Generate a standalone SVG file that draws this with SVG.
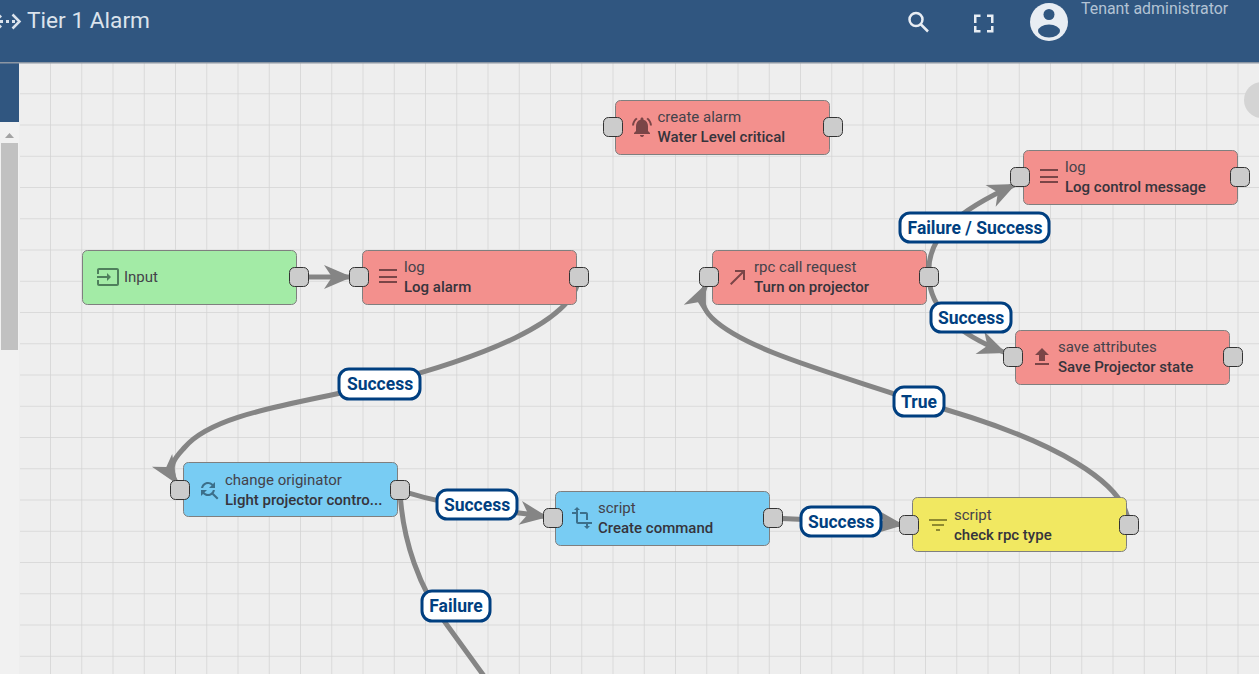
<svg xmlns="http://www.w3.org/2000/svg" xmlns:xlink="http://www.w3.org/1999/xlink" width="1259" height="674" viewBox="0 0 1259 674">
<style>
text{font-family:Roboto,"Liberation Sans",sans-serif}
.node{stroke:#7f7f7f;stroke-width:1}
.red{fill:#f3908d}.green{fill:#a3eba6}.blue{fill:#78ccf3}.yellow{fill:#f1e861}
.port{fill:#cccccc;stroke:#333;stroke-width:1}
.t{font-size:15px;fill:#44424a}
.n{font-size:15px;font-weight:500;fill:#36343c}
.edge{fill:none;stroke:#858585;stroke-width:5}
.lb{fill:#fff;stroke:#003f80;stroke-width:3}
.lt{font-size:17.500px;font-weight:700;fill:#003f80;text-anchor:middle}
.ir{fill:#7a4547}.ib{fill:#3c6f8a}.ig{fill:#4f7f5c}.iy{fill:#8f8a30}
</style>
<defs>
<pattern id="grid" width="31.25" height="31.25" patternUnits="userSpaceOnUse" x="19.75" y="0.5">
<path d="M31.25 0V31.25H0" fill="none" stroke="#d3d3d3" stroke-width="1.500"/>
</pattern>
<marker id="arrow" markerUnits="userSpaceOnUse" markerWidth="30" markerHeight="26" refX="28" refY="13" orient="auto" overflow="visible">
<path d="M0 1L28 13L0 25L8 13Z" fill="#858585"/>
</marker>
<path id="i-menu" d="M3 18h18v-2H3zm0-5h18v-2H3zm0-7h18V4H3z"/>
<path id="i-bell" d="M7.58 4.08L6.15 2.65C3.75 4.48 2.17 7.3 2.03 10.5h2c.15-2.65 1.51-4.97 3.55-6.42zm12.39 6.42h2c-.15-3.2-1.73-6.02-4.12-7.85l-1.42 1.43c2.02 1.45 3.39 3.77 3.54 6.42zM18 11c0-3.07-1.64-5.64-4.5-6.32V4c0-.83-.67-1.5-1.5-1.5s-1.5.67-1.5 1.5v.68C7.63 5.36 6 7.92 6 11v5l-2 2v1h16v-1l-2-2v-5zm-6 11c.14 0 .27-.01.4-.04.65-.14 1.18-.58 1.44-1.18.1-.24.15-.5.15-.78h-4c.01 1.1.9 2 2.01 2z"/>
<path id="i-call" d="M9 5v2h6.59L4 18.59 5.41 20 17 8.41V15h2V5z"/>
<path id="i-pub" d="M5 20h14v-2H5v2zm0-10h4v6h6v-6h4l-7-7-7 7z"/>
<path id="i-input" d="M21 3.01H3c-1.1 0-2 .9-2 2V9h2V4.99h18v14.03H3V15H1v4.01c0 1.1.9 1.98 2 1.98h18c1.1 0 2-.88 2-1.98v-14c0-1.11-.9-2-2-2zM11 16l4-4-4-4v3H1v2h10v3z"/>
<path id="i-find" d="M11 6c1.38 0 2.63.56 3.54 1.46L12 10h6V4l-2.05 2.05C14.68 4.78 12.93 4 11 4c-3.53 0-6.43 2.61-6.92 6H6.1c.46-2.28 2.48-4 4.9-4zm5.64 9.14c.66-.9 1.12-1.97 1.28-3.14H15.9c-.46 2.28-2.48 4-4.9 4-1.38 0-2.63-.56-3.54-1.46L10 12H4v6l2.05-2.05C7.32 17.22 9.07 18 11 18c1.55 0 2.98-.51 4.14-1.36L20 21.49 21.49 20l-4.85-4.86z"/>
<path id="i-trans" d="M22 18v-2H8V4h2L7 1 4 4h2v2H2v2h4v8c0 1.1.9 2 2 2h8v2h-2l3 3 3-3h-2v-2h4zM10 8h6v6h2V8c0-1.1-.9-2-2-2h-6v2z"/>
<path id="i-filter" d="M10 18h4v-2h-4v2zM3 6v2h18V6H3zm3 7h12v-2H6v2z"/>
</defs>

<rect width="1259" height="674" fill="#eeeeee"/>
<rect x="20" y="62" width="1239" height="612" fill="url(#grid)"/>
<circle cx="1262" cy="100" r="18" fill="#d4d4d4"/>

<g id="sidebar">
<rect x="0" y="62" width="19" height="60" fill="#305680"/>
<rect x="0" y="122" width="19" height="552" fill="#f1f1f1"/>
<rect x="1" y="143" width="17" height="207" fill="#c1c1c1"/>
<path d="M5 138L9.500 133L14 138Z" fill="#a3a3a3"/>
</g>

<g id="header">
<rect width="1259" height="62" fill="#305680"/>
<rect y="62" width="1259" height="1.500" fill="#8b96a3"/>
<g fill="#dbe3ec">
<path d="M0 14.500L2 16.500L0 18.500ZM0 24.500L2 26.500L0 28.500Z"/>
<rect x="0" y="20" width="3" height="3"/><rect x="6" y="20" width="3" height="3"/><rect x="12" y="20" width="3" height="3"/>
<path d="M12.500 14.500L19.500 21.500L12.500 28.500" fill="none" stroke="#dbe3ec" stroke-width="2.500"/>
</g>
<text x="27" y="28" font-size="22.700" fill="#dbe3ec">Tier 1 Alarm</text>
<g fill="none" stroke="#e8edf3" stroke-width="2.500">
<circle cx="916" cy="19.500" r="6.500"/>
<path d="M920.500 24L928 31.500"/>
</g>
<path d="M974 26h2.500v4h4v2.500H974zM974 23h2.500v-6h4v-2.500H974zM991 30h-4v2.500h6.500V26H991zM987 14.500V17h4v6h2.500v-8.500z" fill="#e8edf3"/>
<circle cx="1049" cy="22" r="19" fill="#e8edf3"/>
<circle cx="1049" cy="14.500" r="5.500" fill="#305680"/>
<ellipse cx="1049" cy="31" rx="11" ry="6.500" fill="#305680"/>
<text x="1081" y="14" font-size="15.900" fill="#b3c3d4">Tenant administrator</text>
</g>

<g id="connectors">
<path class="edge" marker-end="url(#arrow)" d="M299 277L352 277"/>
<path class="edge" marker-end="url(#arrow)" d="M579 277C575 322 480 358 380 384C300 404 215 412 185 447C178 455 165 465 177 484"/>
<path class="edge" marker-end="url(#arrow)" d="M400 490C440 505 500 510 548 517"/>
<path class="edge" d="M400 490C402 540 420 590 447 625L484 676"/>
<path class="edge" marker-end="url(#arrow)" d="M773 518C800 520 860 520 904 525"/>
<path class="edge" marker-end="url(#arrow)" d="M1129 525C1127 485 1060 440 919 402C830 372 745 350 712 318C704 310 699 300 706 284"/>
<path class="edge" marker-end="url(#arrow)" d="M929 277C925 235 960 210 1016 184"/>
<path class="edge" marker-end="url(#arrow)" d="M929 277C930 310 960 335 1006 353"/>
</g>

<g id="node-create-alarm">
<rect class="node red" x="615.500" y="100.500" width="214" height="54" rx="5"/>
<use xlink:href="#i-bell" href="#i-bell" class="ir" x="630" y="115"/>
<text class="t" x="657.500" y="122">create alarm</text>
<text class="n" x="657.500" y="142">Water Level critical</text>
<rect class="port" x="603.500" y="117.500" width="19" height="19" rx="5"/>
<rect class="port" x="823.500" y="117.500" width="19" height="19" rx="5"/>
</g>
<g id="node-log-control">
<rect class="node red" x="1023.500" y="150.500" width="214" height="54" rx="5"/>
<use xlink:href="#i-menu" href="#i-menu" class="ir" x="1037" y="165"/>
<text class="t" x="1065" y="172">log</text>
<text class="n" x="1065" y="192">Log control message</text>
<rect class="port" x="1010.500" y="167.500" width="19" height="19" rx="5"/>
<rect class="port" x="1230.500" y="167.500" width="19" height="19" rx="5"/>
</g>
<g id="node-input">
<rect class="node green" x="82.500" y="250.500" width="214" height="54" rx="5"/>
<use xlink:href="#i-input" href="#i-input" class="ig" x="96" y="265"/>
<text class="t" x="124" y="282">Input</text>
<rect class="port" x="289.500" y="267.500" width="19" height="19" rx="5"/>
</g>
<g id="node-log-alarm">
<rect class="node red" x="362.500" y="250.500" width="214" height="54" rx="5"/>
<use xlink:href="#i-menu" href="#i-menu" class="ir" x="376" y="265"/>
<text class="t" x="404" y="272">log</text>
<text class="n" x="404" y="292">Log alarm</text>
<rect class="port" x="349.500" y="267.500" width="19" height="19" rx="5"/>
<rect class="port" x="569.500" y="267.500" width="19" height="19" rx="5"/>
</g>
<g id="node-rpc">
<rect class="node red" x="712.500" y="250.500" width="214" height="54" rx="5"/>
<use xlink:href="#i-call" href="#i-call" class="ir" x="726" y="265"/>
<text class="t" x="754" y="272">rpc call request</text>
<text class="n" x="754" y="292">Turn on projector</text>
<rect class="port" x="699.500" y="267.500" width="19" height="19" rx="5"/>
<rect class="port" x="919.500" y="267.500" width="19" height="19" rx="5"/>
</g>
<g id="node-save">
<rect class="node red" x="1015.500" y="330.500" width="214" height="54" rx="5"/>
<use xlink:href="#i-pub" href="#i-pub" class="ir" x="1030" y="345"/>
<text class="t" x="1058" y="352">save attributes</text>
<text class="n" x="1058" y="372">Save Projector state</text>
<rect class="port" x="1003.500" y="347.500" width="19" height="19" rx="5"/>
<rect class="port" x="1223.500" y="347.500" width="19" height="19" rx="5"/>
</g>
<g id="node-change">
<rect class="node blue" x="183.500" y="462.500" width="214" height="54" rx="5"/>
<use xlink:href="#i-find" href="#i-find" class="ib" x="197" y="478"/>
<text class="t" x="225" y="485">change originator</text>
<text class="n" x="225" y="505">Light projector contro...</text>
<rect class="port" x="170.500" y="480.500" width="19" height="19" rx="5"/>
<rect class="port" x="390.500" y="480.500" width="19" height="19" rx="5"/>
</g>
<g id="node-script">
<rect class="node blue" x="555.500" y="491.500" width="214" height="54" rx="5"/>
<use xlink:href="#i-trans" href="#i-trans" class="ib" x="570" y="506"/>
<text class="t" x="598" y="513">script</text>
<text class="n" x="598" y="533">Create command</text>
<rect class="port" x="543.500" y="508.500" width="19" height="19" rx="5"/>
<rect class="port" x="763.500" y="508.500" width="19" height="19" rx="5"/>
</g>
<g id="node-filter">
<rect class="node yellow" x="912.500" y="497.500" width="214" height="54" rx="5"/>
<use xlink:href="#i-filter" href="#i-filter" class="iy" x="926" y="513"/>
<text class="t" x="954" y="520">script</text>
<text class="n" x="954" y="540">check rpc type</text>
<rect class="port" x="899.500" y="515.500" width="19" height="19" rx="5"/>
<rect class="port" x="1119.500" y="515.500" width="19" height="19" rx="5"/>
</g>

<g id="edge-labels">
<rect class="lb" x="339" y="369" width="81" height="30" rx="10"/><text class="lt" x="380" y="390">Success</text>
<rect class="lb" x="437" y="490" width="80" height="29" rx="10"/><text class="lt" x="477" y="511">Success</text>
<rect class="lb" x="801" y="507" width="80" height="29" rx="10"/><text class="lt" x="841" y="528">Success</text>
<rect class="lb" x="422" y="591" width="68" height="30" rx="10"/><text class="lt" x="456" y="612">Failure</text>
<rect class="lb" x="894" y="387" width="50" height="29" rx="10"/><text class="lt" x="919" y="408">True</text>
<rect class="lb" x="900" y="213" width="149" height="29" rx="10"/><text class="lt" x="975" y="234">Failure / Success</text>
<rect class="lb" x="931" y="303" width="80" height="29" rx="10"/><text class="lt" x="971" y="324">Success</text>
</g>
</svg>
